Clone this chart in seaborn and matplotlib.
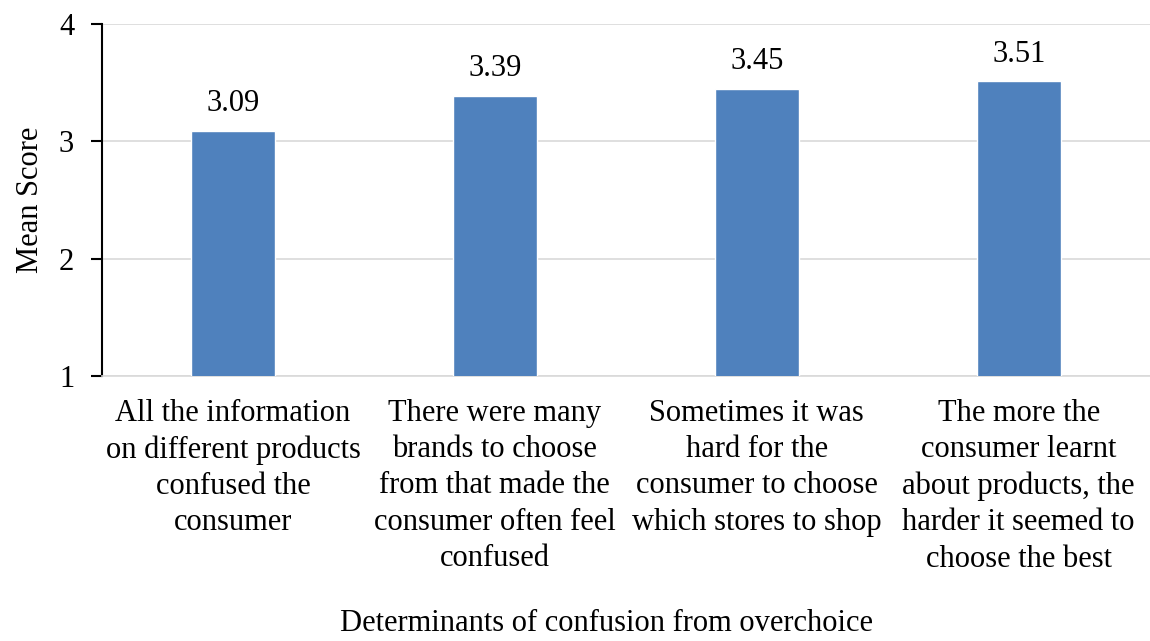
import matplotlib
matplotlib.use("Agg")
import matplotlib.pyplot as plt
import seaborn as sns
import pandas as pd

categories = [
    "All the information\non different products\nconfused the\nconsumer",
    "There were many\nbrands to choose\nfrom that made the\nconsumer often feel\nconfused",
    "Sometimes it was\nhard for the\nconsumer to choose\nwhich stores to shop",
    "The more the\nconsumer learnt\nabout products, the\nharder it seemed to\nchoose the best",
]
mean_scores = [3.09, 3.39, 3.45, 3.51]

df = pd.DataFrame({"item": categories, "score": mean_scores})

sns.set_style("white")
plt.rcParams['font.family'] = ['Liberation Serif', 'DejaVu Serif']
plt.rcParams['text.color'] = 'black'
plt.rcParams['axes.labelcolor'] = 'black'
plt.rcParams['xtick.color'] = 'black'
plt.rcParams['ytick.color'] = 'black'

fig = plt.figure(figsize=(11.5, 6.41), dpi=100)
ax = fig.add_axes([0.0887, 0.4134, 0.911, 0.5492])

sns.barplot(data=df, x="item", y="score", color="#4F81BD", saturation=1,
            width=0.32, ax=ax, zorder=3)

ax.set_ylim(1, 4)
ax.set_yticks([1, 2, 3, 4])
ax.yaxis.grid(True, color="#D9D9D9", linewidth=1.2, zorder=0)
ax.set_axisbelow(True)

for s in ["top", "right"]:
    ax.spines[s].set_visible(False)
ax.spines["left"].set_color("black")
ax.spines["left"].set_linewidth(1.5)
ax.spines["bottom"].set_color("#D9D9D9")
ax.spines["bottom"].set_linewidth(1.2)

ax.tick_params(axis="y", which="major", left=True, length=8, width=1.5,
               color="black", labelcolor="black", labelsize=22, pad=12)
ax.tick_params(axis="x", bottom=False, labelcolor="black", labelsize=22, pad=13)
for lab in ax.get_xticklabels():
    lab.set_linespacing(1.33)

for p, v in zip(ax.patches, mean_scores):
    ax.annotate(f"{v:.2f}", (p.get_x() + p.get_width() / 2, v),
                xytext=(0, 9), textcoords="offset points",
                ha="center", va="bottom", fontsize=22, color="black")

ax.set_ylabel("Mean Score", fontsize=22, labelpad=10, color="black")
ax.set_xlabel("")
fig.text(0.527, 0.028, "Determinants of confusion from overchoice",
         ha="center", va="center", fontsize=22, color="black")

fig.savefig("out.png", dpi=100)
